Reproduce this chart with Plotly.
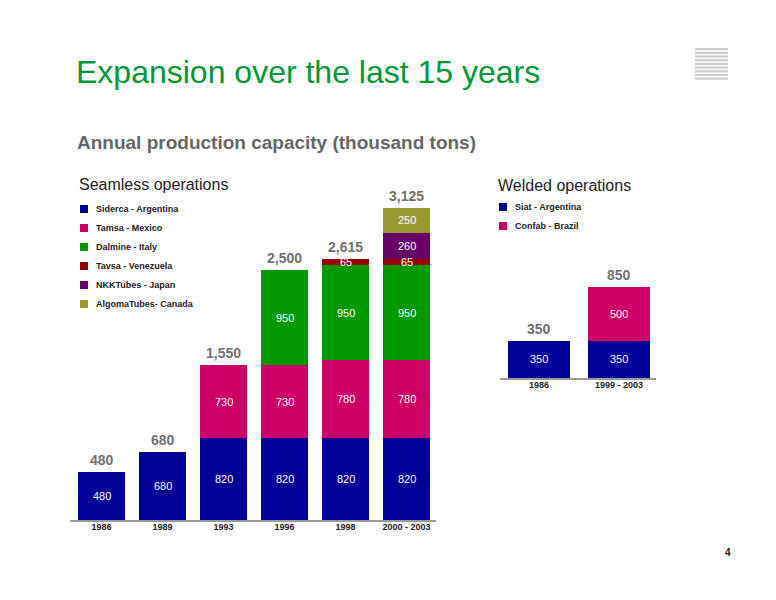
import plotly.graph_objects as go

# Seamless operations
years = ['1986', '1989', '1993', '1996', '1998', '2000 - 2003']
siderca = [480, 680, 820, 820, 820, 820]
tamsa = [0, 0, 730, 730, 780, 780]
dalmine = [0, 0, 0, 950, 950, 950]
tavsa = [0, 0, 0, 0, 65, 65]
nkk = [0, 0, 0, 0, 0, 260]
algoma = [0, 0, 0, 0, 0, 250]
seamless_names = ['Siderca - Argentina', 'Tamsa - Mexico', 'Dalmine - Italy',
                  'Tavsa - Venezuela', 'NKKTubes - Japan', 'AlgomaTubes- Canada']

# Welded operations
w_years = ['1986', '1999 - 2003']
siat = [350, 350]
confab = [0, 500]
welded_names = ['Siat - Argentina', 'Confab - Brazil']

colors = ['#000099', '#CC0066', '#009900', '#990000', '#660066', '#999933']
# page body has an 8px margin; figure is sized to fit inside it
W, H = 760, 584


def px(x):
    return (x - 8) / W


def py(y):
    return 1 - (y - 8) / H


def note(x, y, text, size, color='#222', xa='left', ya='middle'):
    return dict(x=px(x), y=py(y), xref='paper', yref='paper', text=text, xanchor=xa,
                yanchor=ya, showarrow=False, font=dict(size=size, color=color))


def stack_labels(cats, groups, xref, yref):
    out = []
    for i in range(len(cats)):
        base = 0
        for vals in groups:
            v = vals[i]
            if v:
                out.append(dict(x=i, y=base + max(v / 2, 30), xref=xref, yref=yref,
                                text=str(v), xanchor='center', yanchor='middle',
                                showarrow=False, font=dict(color='white', size=11)))
            base += v
        out.append(dict(x=i, y=base, xref=xref, yref=yref, text=f'<b>{base:,}</b>',
                        yanchor='bottom', xanchor='center', showarrow=False, yshift=2,
                        font=dict(color='#707070', size=14)))
    return out


fig = go.Figure()
series = [siderca, tamsa, dalmine, tavsa, nkk, algoma]
for name, vals, col in zip(seamless_names, series, colors):
    fig.add_trace(go.Bar(x=years, y=vals, name=name, marker_color=col,
                         marker_line_width=0, xaxis='x', yaxis='y', showlegend=False))
for name, vals, col in zip(welded_names, [siat, confab], colors[:2]):
    fig.add_trace(go.Bar(x=w_years, y=vals, name=name, marker_color=col,
                         marker_line_width=0, xaxis='x2', yaxis='y2', showlegend=False))

ann = stack_labels(years, series, 'x', 'y') + stack_labels(w_years, [siat, confab], 'x2', 'y2')

shapes = []
for k, (name, col) in enumerate(zip(seamless_names, colors)):
    yy = 209 + k * 19
    shapes.append(dict(type='rect', xref='paper', yref='paper', x0=px(80), x1=px(88),
                       y0=py(yy + 4), y1=py(yy - 4), fillcolor=col, line_width=0))
    ann.append(note(94, yy, f'<b>{name}</b>', 9))
for k, (name, col) in enumerate(zip(welded_names, colors)):
    yy = 207 + k * 19
    shapes.append(dict(type='rect', xref='paper', yref='paper', x0=px(499), x1=px(507),
                       y0=py(yy + 4), y1=py(yy - 4), fillcolor=col, line_width=0))
    ann.append(note(513, yy, f'<b>{name}</b>', 9))

shapes.append(dict(type='line', xref='paper', yref='paper', x0=px(70), x1=px(436),
                   y0=py(521), y1=py(521), line=dict(color='#999', width=2)))
shapes.append(dict(type='line', xref='paper', yref='paper', x0=px(500), x1=px(656),
                   y0=py(379), y1=py(379), line=dict(color='#999', width=2)))
for k in range(9):
    shapes.append(dict(type='rect', xref='paper', yref='paper', x0=px(695), x1=px(728),
                       y0=py(48 + k * 3.7 + 2.2), y1=py(48 + k * 3.7), fillcolor='#cccccc', line_width=0))

ann += [
    note(74, 72, 'Expansion over the last 15 years', 32, '#009933'),
    note(75, 142, '<b>Annual production capacity (thousand tons)</b>', 19, '#666666'),
    note(77, 184, 'Seamless operations', 16),
    note(496, 185, 'Welded operations', 16),
    note(733, 552, '<b>4</b>', 10, xa='right'),
]

tickfont = dict(size=9, color='#222')
fig.update_layout(
    width=W, height=H, margin=dict(l=0, r=0, t=0, b=0),
    paper_bgcolor='white', plot_bgcolor='white', barmode='stack', bargap=0.23,
    font=dict(family='Liberation Sans, Arial, sans-serif'),
    xaxis=dict(domain=[px(71), px(437)], anchor='y', type='category', range=[-0.5, 5.5],
               showgrid=False, showline=False, tickfont=tickfont, ticks='',
               tickprefix='<b>', ticksuffix='</b>'),
    yaxis=dict(domain=[py(520), py(190)], range=[0, 3300], visible=False),
    xaxis2=dict(domain=[px(499), px(659)], anchor='y2', type='category', range=[-0.5, 1.5],
                showgrid=False, showline=False, tickfont=tickfont, ticks='',
                tickprefix='<b>', ticksuffix='</b>'),
    yaxis2=dict(domain=[py(378), py(271)], range=[0, 1000], visible=False),
    annotations=ann, shapes=shapes,
)
fig.write_html('out.html')
